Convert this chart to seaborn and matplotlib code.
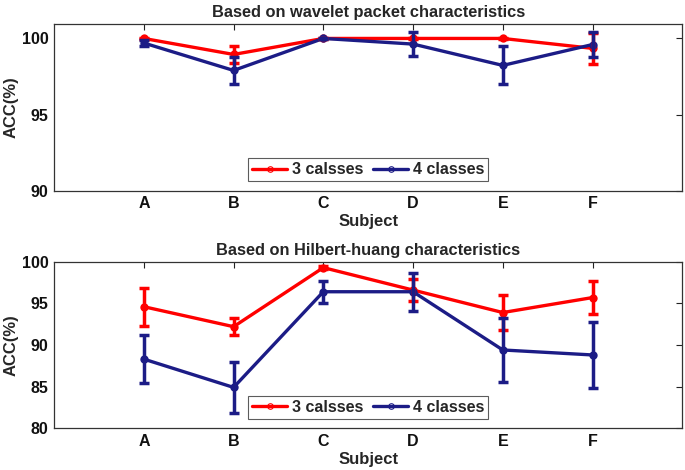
import numpy as np
import pandas as pd
import matplotlib
matplotlib.use('Agg')
import matplotlib.pyplot as plt
import seaborn as sns
from matplotlib.lines import Line2D

sns.set_style('white')
plt.rcParams['font.family'] = ['Liberation Sans', 'DejaVu Sans']
plt.rcParams['font.weight'] = 'bold'

subjects = ['A', 'B', 'C', 'D', 'E', 'F']
series = ['3 calsses', '4 classes']

# wavelet packet characteristics
wp_3 = [100.0, 98.95, 100.0, 100.0, 100.0, 99.35]
wp_3_err = [0.05, 0.55, 0.05, 0.05, 0.05, 1.0]
wp_4 = [99.7, 97.9, 100.0, 99.63, 98.23, 99.6]
wp_4_err = [0.2, 0.9, 0.05, 0.77, 1.25, 0.85]

# Hilbert-huang characteristics
hh_3 = [94.6, 92.2, 99.3, 96.6, 93.9, 95.7]
hh_3_err = [2.3, 1.0, 0.2, 1.3, 2.05, 1.95]
hh_4 = [88.3, 84.9, 96.4, 96.4, 89.4, 88.8]
hh_4_err = [2.9, 3.1, 1.3, 2.3, 3.85, 4.0]

red = '#ff0000'
navy = '#1c1c86'


def draw_panel(ax, vals, errs, title, ylim, yticks):
    x = np.arange(1, len(subjects) + 1)
    df = pd.DataFrame({
        'x': np.concatenate([x, x]),
        'acc': np.concatenate(vals),
        'group': [series[0]] * len(x) + [series[1]] * len(x),
    })
    sns.lineplot(data=df, x='x', y='acc', hue='group', palette=[red, navy],
                 marker='o', markersize=6, markeredgewidth=0, linewidth=2.4,
                 ax=ax, legend=False, zorder=3)
    for v, e, c in zip(vals, errs, [red, navy]):
        ax.errorbar(x, v, yerr=e, fmt='none', ecolor=c, elinewidth=2.5,
                    capsize=3.5, capthick=2.5, zorder=3)
    ax.set_xlim(0, 7)
    ax.set_ylim(*ylim)
    ax.set_xticks(x)
    ax.set_xticklabels(subjects)
    ax.set_yticks(yticks)
    ax.tick_params(direction='in', length=4, width=0.8, top=True, right=True,
                   labelsize=11.5, pad=4, colors='#222222')
    for lab in ax.get_xticklabels() + ax.get_yticklabels():
        lab.set_fontweight('bold')
        lab.set_color('#111111')
    for sp in ax.spines.values():
        sp.set_color('#333333')
        sp.set_linewidth(0.9)
    ax.set_xlabel('Subject', fontsize=12, fontweight='bold', labelpad=2)
    ax.set_ylabel('ACC(%)', fontsize=12, fontweight='bold', labelpad=2)
    ax.set_title(title, fontsize=11.8, fontweight='bold', pad=5)
    handles = [Line2D([0], [0], color=c, lw=2.4, marker='o', markersize=4,
                      markerfacecolor='none', markeredgewidth=0.8)
               for c in [red, navy]]
    leg = ax.legend(handles, series, loc='lower center', ncol=2,
                    bbox_to_anchor=(0.5, 0.0), frameon=True, fancybox=False,
                    handlelength=2.2, handletextpad=0.3, columnspacing=0.6,
                    borderpad=0.25, borderaxespad=0.6,
                    prop={'weight': 'bold', 'size': 11.5})
    leg.get_frame().set_edgecolor('#333333')
    leg.get_frame().set_linewidth(0.8)


fig = plt.figure(figsize=(6.85, 4.7), dpi=100)
ax1 = fig.add_axes([0.079, 0.594, 0.917, 0.355])
ax2 = fig.add_axes([0.079, 0.089, 0.917, 0.354])

draw_panel(ax1, [wp_3, wp_4], [wp_3_err, wp_4_err],
           'Based on wavelet packet characteristics', (90, 100.95), [90, 95, 100])
draw_panel(ax2, [hh_3, hh_4], [hh_3_err, hh_4_err],
           'Based on Hilbert-huang characteristics', (80, 100), [80, 85, 90, 95, 100])

fig.savefig('out.png', dpi=100)
